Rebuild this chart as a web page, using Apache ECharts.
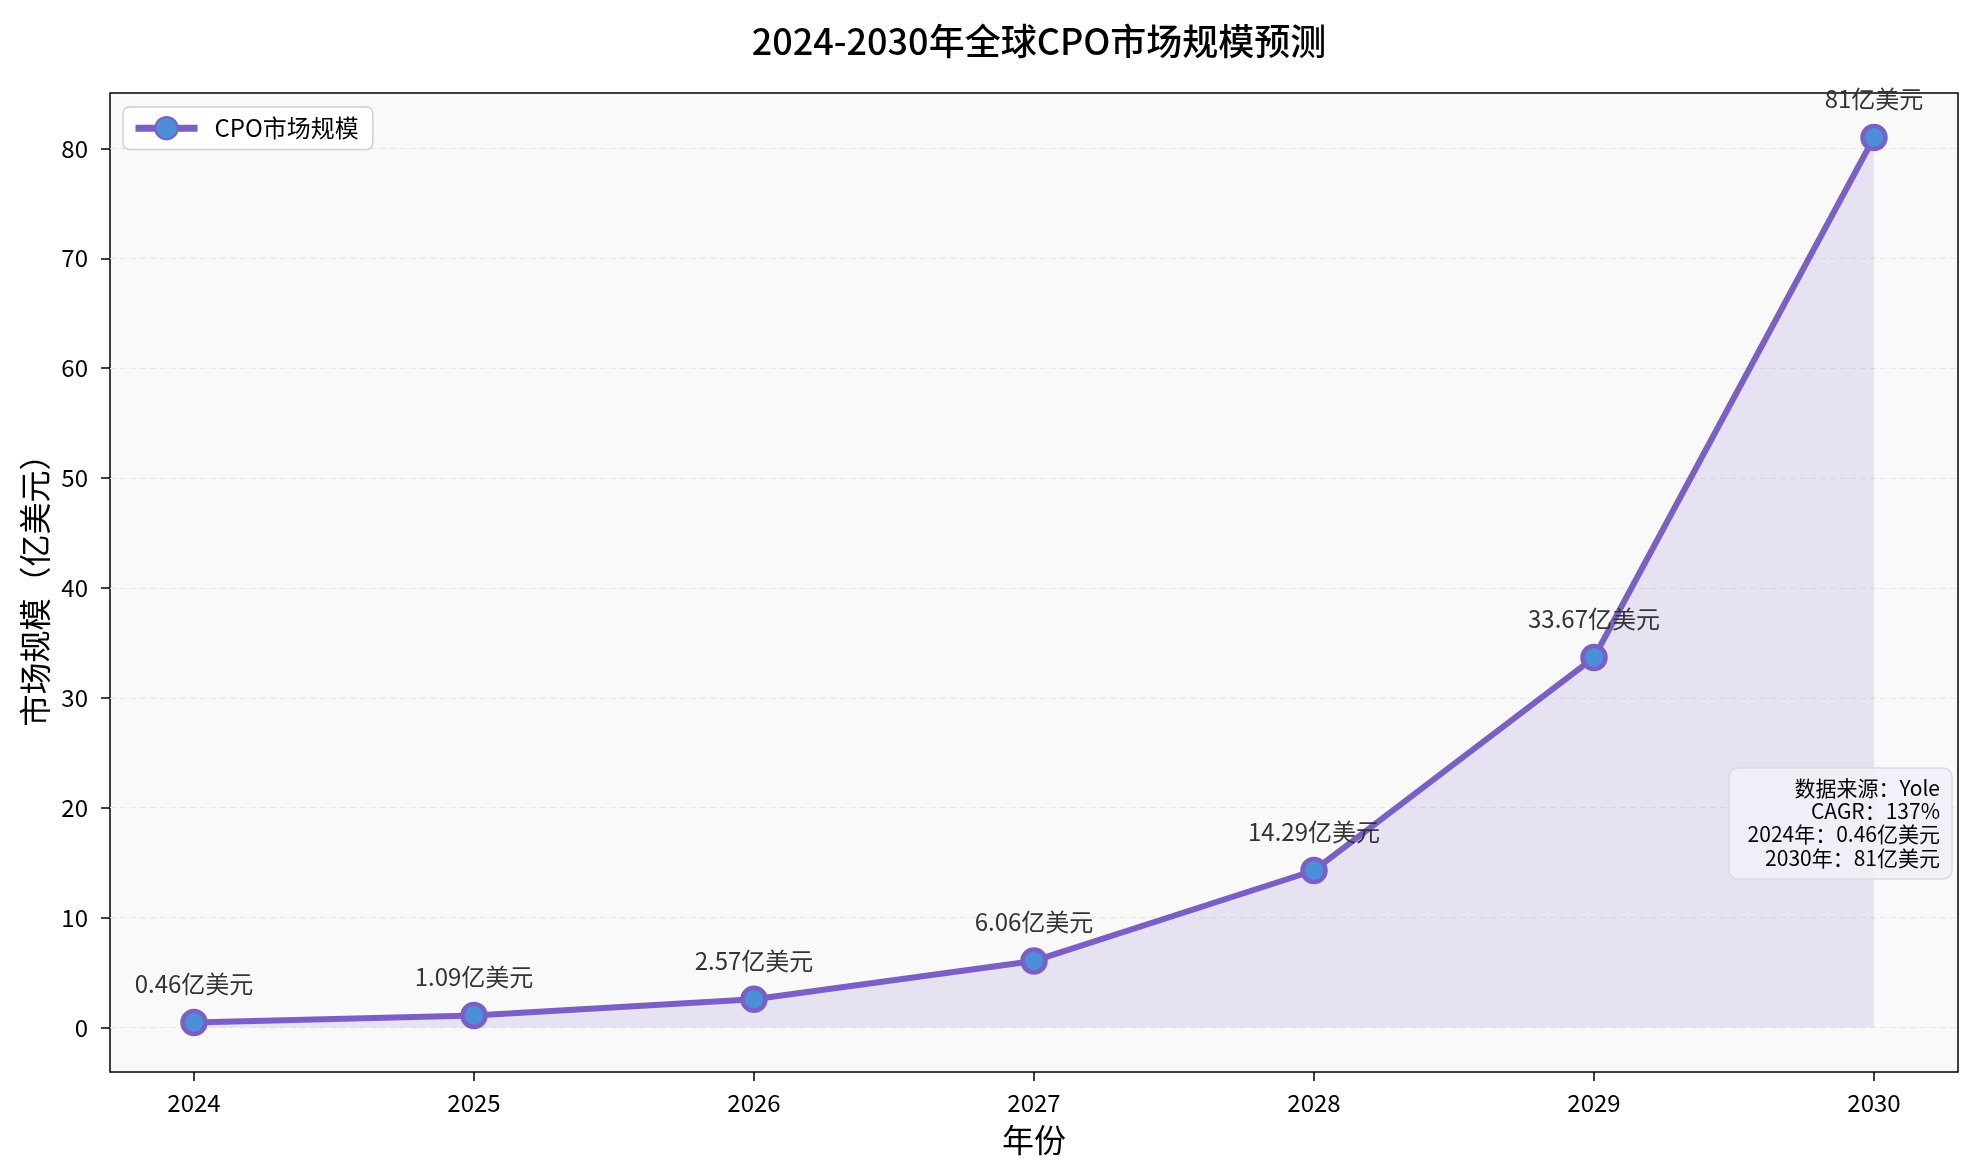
<!DOCTYPE html>
<html>
<head>
<meta charset="utf-8">
<title>2024-2030年全球CPO市场规模预测</title>
<script src="https://cdn.jsdelivr.net/npm/echarts@6.0.0/dist/echarts.min.js"></script>
<style>
  html, body { margin: 0; padding: 0; background: #ffffff; }
  #chart { width: 1978px; height: 1176px; }
</style>
</head>
<body>
<div id="chart"></div>
<script>
// 数据
const years = [2024, 2025, 2026, 2027, 2028, 2029, 2030];
const marketSize = [0.46, 1.09, 2.57, 6.06, 14.29, 33.67, 81];
const yTicks = [0, 10, 20, 30, 40, 50, 60, 70, 80];
const infoLines = ['数据来源：Yole', 'CAGR：137%', '2024年：0.46亿美元', '2030年：81亿美元'];

const FONT = '"Noto Sans CJK SC", "DejaVu Sans", sans-serif';
const LINE_COLOR = '#7b5fc6';
const DOT_COLOR = '#4a8fd8';

const chart = echarts.init(document.getElementById('chart'));

const option = {
  backgroundColor: '#ffffff',
  textStyle: { fontFamily: FONT, color: '#000' },
  title: {
    text: '2024-2030年全球CPO市场规模预测',
    left: 1034,
    top: 18,
    textAlign: 'center',
    textStyle: { fontSize: 36, fontWeight: 500, color: '#000', fontFamily: FONT },
  },
  legend: {
    left: 123,
    top: 107,
    padding: [9, 14, 9, 9],
    backgroundColor: '#ffffff',
    borderColor: '#d0d0d0',
    borderWidth: 1.5,
    borderRadius: 6,
    itemWidth: 62,
    itemHeight: 28,
    lineStyle: { width: 7, color: LINE_COLOR },
    textStyle: { fontSize: 24, color: '#000', fontFamily: FONT, padding: [0, 0, 0, 12] },
    data: ['CPO市场规模'],
  },
  grid: {
    left: 110,
    right: 20,
    top: 93,
    bottom: 104,
    show: true,
    backgroundColor: '#f9f9f9',
    borderColor: '#000',
    borderWidth: 1.5,
  },
  xAxis: {
    type: 'value',
    min: 2023.7,
    max: 2030.3,
    name: '年份',
    nameLocation: 'middle',
    nameGap: 52,
    nameTextStyle: { fontSize: 32, color: '#000', fontFamily: FONT },
    axisLine: { show: false, onZero: false },
    axisTick: { show: true, length: 9, lineStyle: { color: '#000', width: 1.5 }, customValues: years },
    axisLabel: {
      fontSize: 24, color: '#000', margin: 19, customValues: years,
      formatter: (v) => String(v),
    },
    splitLine: { show: false },
  },
  yAxis: {
    type: 'value',
    min: -4.05,
    max: 85.05,
    name: '市场规模（亿美元）',
    nameLocation: 'middle',
    nameGap: 56,
    nameTextStyle: { fontSize: 32, color: '#000', fontFamily: FONT },
    axisLine: { show: false, onZero: false },
    axisTick: { show: true, length: 9, lineStyle: { color: '#000', width: 1.5 }, customValues: yTicks },
    axisLabel: { fontSize: 24, color: '#000', margin: 22, customValues: yTicks },
    splitLine: {
      show: true,
      lineStyle: { color: '#e8e8e8', type: [6, 4], width: 1 },
    },
  },
  series: [
    {
      name: 'CPO市场规模',
      type: 'line',
      data: years.map((y, i) => [y, marketSize[i]]),
      symbol: 'circle',
      symbolSize: 23,
      lineStyle: { color: LINE_COLOR, width: 6 },
      itemStyle: { color: DOT_COLOR, borderColor: LINE_COLOR, borderWidth: 4.5 },
      areaStyle: { color: 'rgba(123, 95, 198, 0.2)', origin: 0 },
      label: {
        show: true,
        position: 'top',
        distance: 13,
        fontSize: 24,
        color: '#333',
        fontFamily: FONT,
        formatter: (p) => `${p.value[1]}亿美元`,
      },
      emphasis: { disabled: true },
      z: 3,
    },
  ],
  graphic: [
    {
      type: 'rect',
      shape: { x: 1729, y: 768, width: 223, height: 111, r: 9 },
      style: { fill: 'rgba(240, 241, 249, 0.85)', stroke: '#dcdcdc', lineWidth: 1.5 },
      z: 10,
    },
    {
      type: 'text',
      x: 1940,
      y: 776,
      style: {
        text: infoLines.join('\n'),
        align: 'right',
        verticalAlign: 'top',
        fontSize: 21,
        lineHeight: 23.3,
        fill: '#000',
        fontFamily: FONT,
      },
      z: 11,
    },
  ],
};

chart.setOption(option);
</script>
</body>
</html>
